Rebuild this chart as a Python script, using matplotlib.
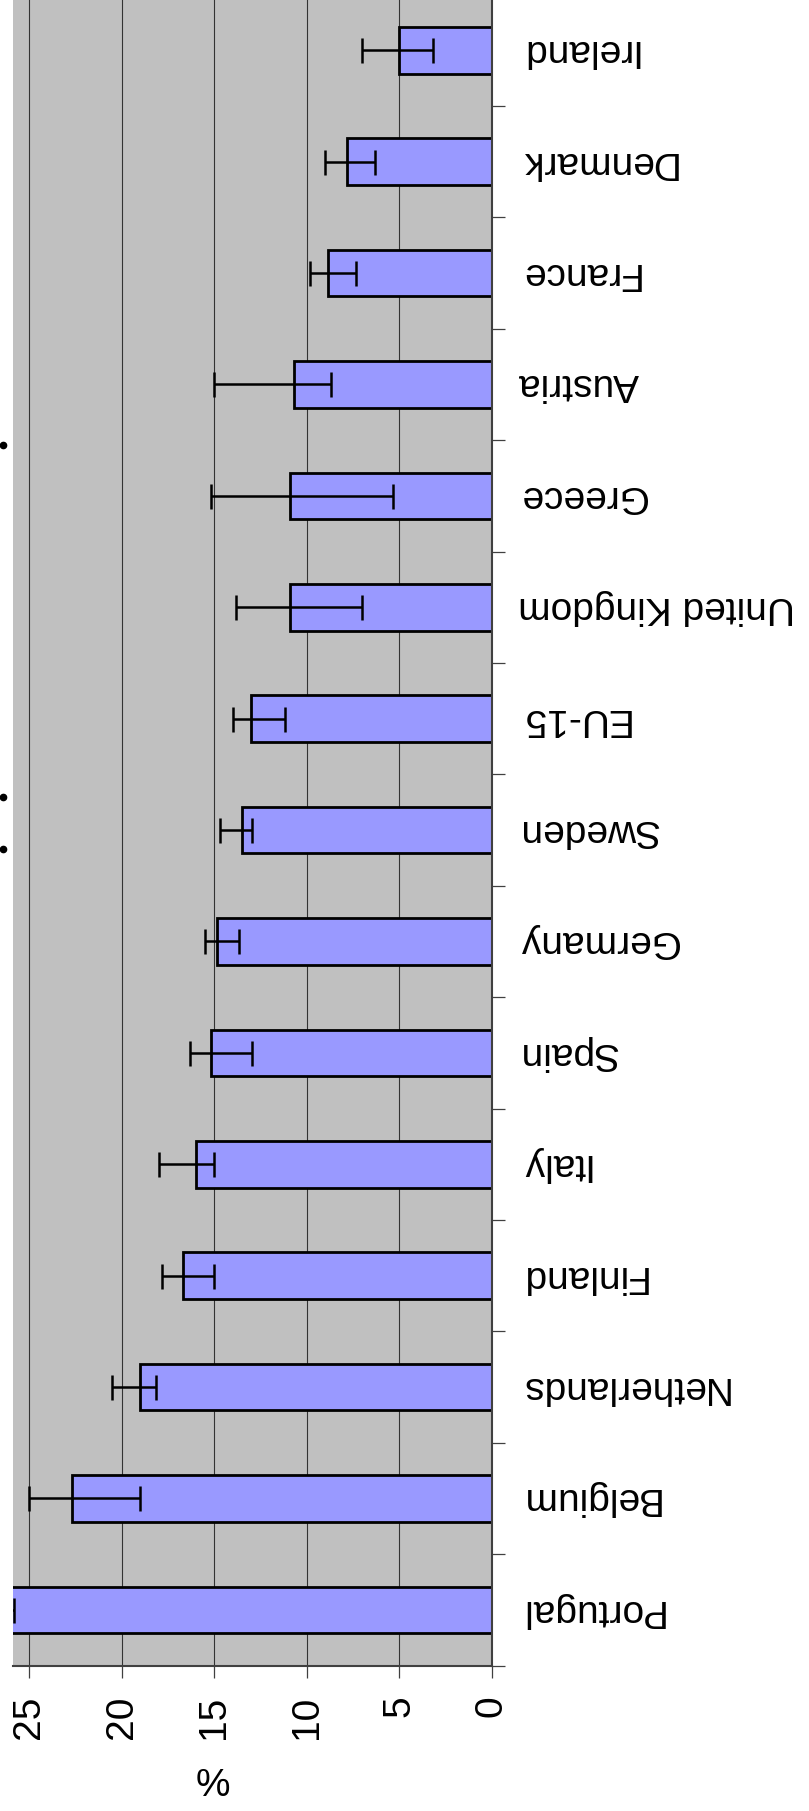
import matplotlib
matplotlib.use("Agg")
import matplotlib.pyplot as plt
from matplotlib.lines import Line2D
import numpy as np

plt.rcParams['font.family'] = ['Liberation Sans', 'DejaVu Sans']

# Data (bottom to top in the picture)
countries = ["Portugal", "Belgium", "Netherlands", "Finland", "Italy", "Spain",
             "Germany", "Sweden", "EU-15", "United Kingdom", "Greece", "Austria",
             "France", "Denmark", "Ireland"]
values = [28.5, 22.7, 19.0, 16.7, 16.0, 15.18, 14.86, 13.52, 13.0, 10.9, 10.9,
          10.7, 8.84, 7.85, 5.0]
ci_low = [25.85, 19.0, 18.17, 15.0, 15.0, 12.98, 13.69, 12.98, 11.19, 7.0, 5.32,
          8.67, 7.35, 6.3, 3.2]
ci_high = [31.0, 25.0, 20.53, 17.84, 17.99, 16.34, 15.52, 14.68, 14.0, 13.84, 15.18,
           15.0, 9.83, 9.0, 7.0]
xticks = [0, 5, 10, 15, 20, 25]
axis_label = "%"

W, H = 809, 1811
fig = plt.figure(figsize=(W / 100, H / 100), dpi=100)
fig.patch.set_facecolor("white")

left_px, right_px = 12.7, 491.7
top_px, bot_px = -5.4, 1665.6
ax = fig.add_axes([left_px / W, 1 - bot_px / H, (right_px - left_px) / W, (bot_px - top_px) / H])
ax.set_facecolor("#C0C0C0")

y = np.arange(len(countries))
vals = np.array(values)
lo = np.array(ci_low)
hi = np.array(ci_high)

for gx in xticks[1:]:
    ax.axvline(gx, color="#333333", lw=0.8, zorder=1)

ax.barh(y, vals, height=0.42, color="#9999FF", edgecolor="black", linewidth=2.0, zorder=2)
ax.errorbar(vals, y, xerr=[vals - lo, hi - vals], fmt="none", ecolor="black",
            elinewidth=1.8, capsize=9, capthick=1.8, zorder=3)

ax.set_xlim(25.9, 0)
ax.set_ylim(-0.5, len(countries) - 0.5)

for s in ["top", "left"]:
    ax.spines[s].set_visible(False)
for s in ["right", "bottom"]:
    ax.spines[s].set_color("#404040")
    ax.spines[s].set_linewidth(1.5)

ax.set_xticks(xticks)
ax.set_xticklabels([str(t) for t in xticks], rotation=90, fontsize=28)
ax.tick_params(axis="x", direction="out", length=8.6, width=0.9, color="#404040", pad=13)

ax.yaxis.tick_right()
ax.set_yticks(y)
ax.set_yticklabels(countries, rotation=180, fontsize=28, va="center", ha="left")
ax.tick_params(axis="y", which="major", length=0, pad=19)
ax.set_yticks(np.arange(-0.5, len(countries), 1.0), minor=True)
ax.tick_params(axis="y", which="minor", direction="out", length=9.4, width=0.9,
               color="#404040", right=True, left=False)

fig.text(213 / W, 1 - 1786 / H, axis_label, ha="center", va="center", fontsize=28)

# Fragments of the cut-off title at the left edge
for py in [445, 797, 849]:
    fig.add_artist(Line2D([2.5 / W], [1 - py / H], marker="o", markersize=4.5,
                          color="black", transform=fig.transFigure))

fig.savefig("out.png", dpi=100)
